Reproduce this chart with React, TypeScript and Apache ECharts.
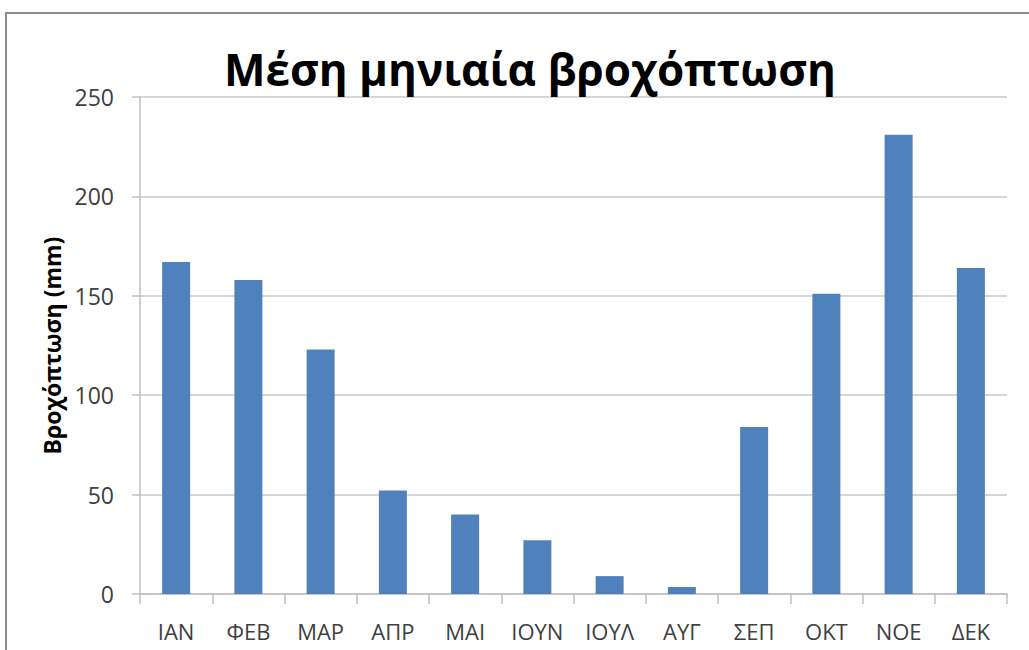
import React, { useEffect, useRef } from "react";
import * as echarts from "echarts";

const months = ["ΙΑΝ", "ΦΕΒ", "ΜΑΡ", "ΑΠΡ", "ΜΑΙ", "ΙΟΥΝ", "ΙΟΥΛ", "ΑΥΓ", "ΣΕΠ", "ΟΚΤ", "ΝΟΕ", "ΔΕΚ"];
const rainfall = [167, 158, 123, 52, 40, 27, 9, 3.5, 84, 151, 231, 164];
const titleText = "Μέση μηνιαία βροχόπτωση";
const yAxisName = "Βροχόπτωση (mm)";

const FONT = "'Open Sans', sans-serif";

export default function App() {
  const ref = useRef<HTMLDivElement>(null);
  useEffect(() => {
    const chart = echarts.init(ref.current!, null, { renderer: "svg" });
    chart.setOption({
      animation: false,
      backgroundColor: "#ffffff",
      title: {
        text: titleText,
        left: 525,
        textAlign: "center",
        top: 42,
        textStyle: { fontFamily: FONT, fontSize: 44, fontWeight: "bold", color: "#000" },
      },
      graphic: [
        {
          type: "rect",
          shape: { x: 6, y: 13, width: 1100, height: 700 },
          style: { fill: "none", stroke: "#8c8c8c", lineWidth: 2 },
          silent: true,
        },
      ],
      grid: { left: 140, right: 22, top: 97, bottom: 56 },
      xAxis: {
        type: "category",
        data: months,
        boundaryGap: true,
        axisLine: { lineStyle: { color: "#bfbfbf", width: 1.5 } },
        axisTick: { show: true, length: 10, lineStyle: { color: "#bfbfbf", width: 1.5 } },
        axisLabel: { fontFamily: FONT, fontSize: 22, color: "#404040", margin: 26, interval: 0 },
      },
      yAxis: {
        type: "value",
        min: 0,
        max: 250,
        interval: 50,
        name: yAxisName,
        nameLocation: "middle",
        nameRotate: 90,
        nameGap: 67,
        nameTextStyle: { fontFamily: FONT, fontSize: 23, fontWeight: "bold", color: "#000", padding: [0, 0, 0, 0] },
        axisLine: { show: true, lineStyle: { color: "#bfbfbf", width: 1.5 } },
        axisTick: { show: true, length: 8, lineStyle: { color: "#bfbfbf", width: 1.5 } },
        splitLine: { lineStyle: { color: "#c8c8c8", width: 1.5 } },
        axisLabel: { fontFamily: FONT, fontSize: 23, color: "#404040", margin: 26 },
      },
      series: [
        {
          type: "bar",
          data: rainfall,
          barWidth: 28,
          itemStyle: { color: "#4f81bd" },
        },
      ],
    });
    return () => chart.dispose();
  }, []);
  return (
    <div
      ref={ref}
      style={{ position: "absolute", left: 0, top: 0, width: 1029, height: 650 }}
    />
  );
}
